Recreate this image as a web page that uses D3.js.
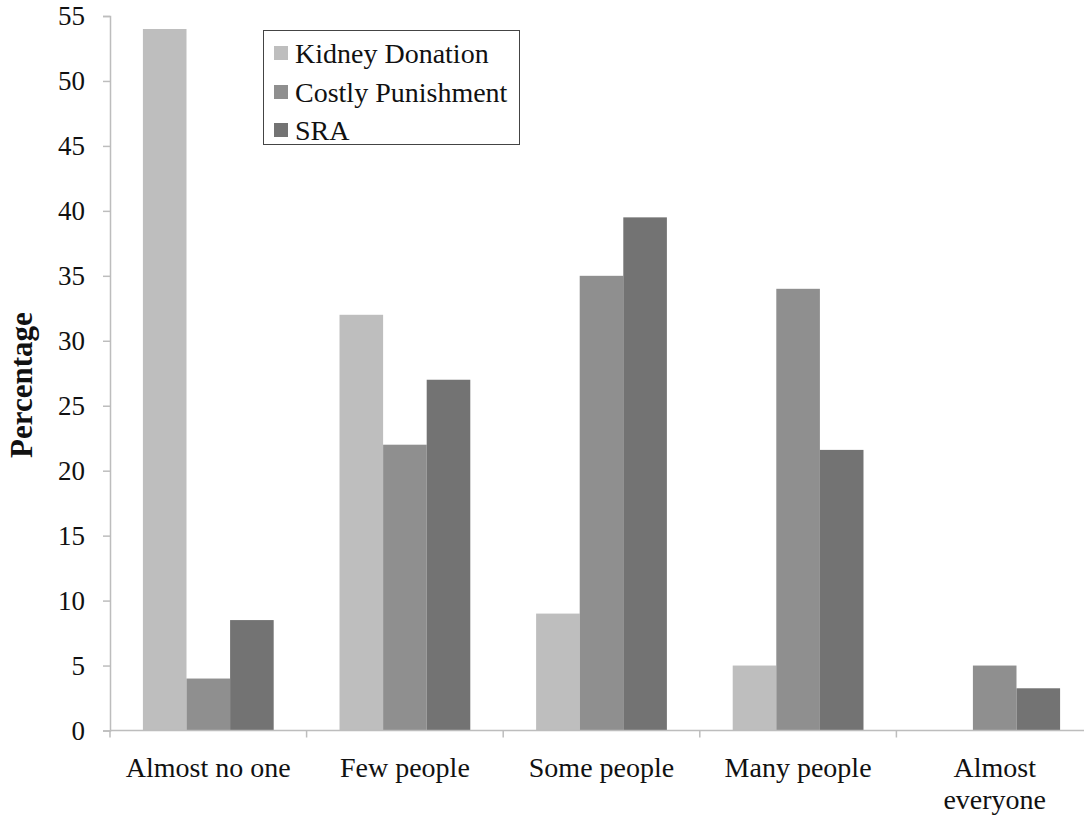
<!DOCTYPE html>
<html>
<head>
<meta charset="utf-8">
<script src="https://cdn.jsdelivr.net/npm/d3@7"></script>
<style>
  html, body { margin: 0; padding: 0; background: #fff; }
  svg { display: block; }
</style>
</head>
<body>
<svg id="chart" width="1084" height="823"></svg>
<script>
const categories = [["Almost no one"], ["Few people"], ["Some people"], ["Many people"], ["Almost", "everyone"]];
const seriesNames = ["Kidney Donation", "Costly Punishment", "SRA"];
const kidneyDonation = [54, 32, 9, 5, 0];
const costlyPunishment = [4, 22, 35, 34, 5];
const sra = [8.5, 27, 39.5, 21.6, 3.25];
const yTicks = [0, 5, 10, 15, 20, 25, 30, 35, 40, 45, 50, 55];
const colors = ["#bebebe", "#8f8f8f", "#737373"];

const seriesValues = [kidneyDonation, costlyPunishment, sra];
const catKeys = categories.map(c => c.join(" "));
const FONT = '"Liberation Serif", "Times New Roman", "DejaVu Serif", serif';

const svg = d3.select("#chart");
const plotLeft = 110, plotRight = 1093, plotTop = 16, plotBottom = 730.5;

const y = d3.scaleLinear().domain([0, 55]).range([plotBottom, plotTop]);
const x0 = d3.scaleBand().domain(catKeys).range([plotLeft, plotRight]).padding(0);
const x1 = d3.scaleBand().domain(seriesNames).range([0, x0.bandwidth()])
  .paddingInner(0).paddingOuter(0.755);

// bars
const groups = svg.append("g").selectAll("g")
  .data(catKeys)
  .join("g")
  .attr("transform", d => `translate(${x0(d)},0)`);

groups.selectAll("rect")
  .data((d, i) => seriesNames.map((s, j) => ({ s, j, v: seriesValues[j][i] })))
  .join("rect")
  .attr("x", d => x1(d.s))
  .attr("width", x1.bandwidth())
  .attr("y", d => y(d.v))
  .attr("height", d => y(0) - y(d.v))
  .attr("fill", d => colors[d.j]);

// y axis
const yAxis = d3.axisLeft(y).tickValues(yTicks).tickSize(7).tickPadding(18);
const gy = svg.append("g").attr("transform", `translate(${plotLeft},0)`).call(yAxis);
gy.attr("font-family", null).attr("font-size", null);
gy.select(".domain").attr("stroke", "#bdbdbd").attr("stroke-width", 1.5);
gy.selectAll(".tick line").attr("stroke", "#bdbdbd").attr("stroke-width", 1.5);
gy.selectAll(".tick text").style("font-size", "27px").attr("fill", "#111");

// x axis
svg.append("line")
  .attr("x1", plotLeft).attr("x2", 1084).attr("y1", plotBottom).attr("y2", plotBottom)
  .attr("stroke", "#bdbdbd").attr("stroke-width", 1.5);
const boundaries = catKeys.map(k => x0(k)).concat([plotRight]);
svg.append("g").selectAll("line")
  .data(boundaries)
  .join("line")
  .attr("x1", d => d).attr("x2", d => d)
  .attr("y1", plotBottom).attr("y2", plotBottom + 7)
  .attr("stroke", "#bdbdbd").attr("stroke-width", 1.5);

// category labels
const labels = svg.append("g").selectAll("text")
  .data(categories)
  .join("text")
  .attr("text-anchor", "middle")
  .attr("x", (d, i) => x0(catKeys[i]) + x0.bandwidth() / 2)
  .attr("y", 777)
  .style("font-size", "28px");
labels.selectAll("tspan")
  .data(d => d)
  .join("tspan")
  .attr("x", function () { return d3.select(this.parentNode).attr("x"); })
  .attr("dy", (d, i) => i === 0 ? 0 : 32)
  .text(d => d);

// y title
svg.append("text")
  .attr("transform", `translate(32,385) rotate(-90)`)
  .attr("text-anchor", "middle")
  .style("font-size", "31px")
  .style("font-weight", "bold")
  .text("Percentage");

// legend
const legend = svg.append("g");
legend.append("rect")
  .attr("x", 263.5).attr("y", 30.5).attr("width", 256).attr("height", 114)
  .attr("fill", "#fff").attr("stroke", "#444").attr("stroke-width", 1);
const rowsY = [53, 92, 130];
const items = legend.selectAll("g.item")
  .data(seriesNames)
  .join("g").attr("class", "item")
  .attr("transform", (d, i) => `translate(274,${rowsY[i]})`);
items.append("rect")
  .attr("x", 0).attr("y", -7).attr("width", 14).attr("height", 14)
  .attr("fill", (d, i) => colors[i]);
items.append("text")
  .attr("x", 21).attr("y", 9.5)
  .style("font-size", "28px")
  .text(d => d);

svg.selectAll("text").style("font-family", FONT).attr("fill", "#111");
</script>
</body>
</html>
